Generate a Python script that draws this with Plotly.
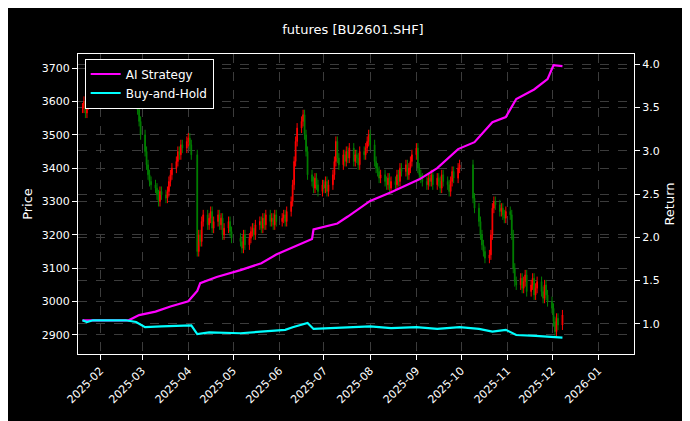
import pandas as pd
import plotly.graph_objects as go

# closes per month (trading days)
close_jan = [3580, 3600, 3565, 3590, 3610, 3595]
close_feb = [3620, 3640, 3660, 3650, 3670, 3690, 3680, 3660, 3700, 3680, 3660, 3670,
             3640, 3620, 3600, 3575, 3540, 3500]
close_mar = [3450, 3410, 3380, 3360, 3350, 3340, 3320, 3300, 3330, 3320, 3310, 3330,
             3360, 3380, 3400, 3420, 3450, 3440, 3470, 3460, 3480]
close_apr = [3490, 3470, 3440, 3150, 3200, 3180, 3240, 3260, 3230, 3250, 3270, 3220,
             3240, 3260, 3230, 3250, 3200, 3220, 3240, 3210, 3190]
close_may = [3180, 3160, 3200, 3170, 3190, 3210, 3220, 3200, 3230, 3240, 3220, 3250,
             3230, 3260, 3240, 3250, 3230, 3260, 3240]
close_jun = [3250, 3260, 3240, 3270, 3300, 3350, 3420, 3480, 3520, 3540, 3560, 3500,
             3450, 3380, 3360, 3340, 3370, 3350, 3330, 3350]
close_jul = [3340, 3360, 3330, 3350, 3380, 3420, 3480, 3430, 3410, 3440, 3420, 3450,
             3430, 3460, 3420, 3440, 3430, 3410, 3450, 3440, 3460, 3480, 3500]
close_aug = [3470, 3420, 3400, 3390, 3370, 3380, 3360, 3350, 3370, 3340, 3360, 3350,
             3380, 3360, 3400, 3390, 3410, 3380, 3400, 3420, 3440]
close_sep = [3460, 3400, 3380, 3370, 3360, 3350, 3370, 3360, 3380, 3350, 3370, 3360,
             3340, 3380, 3360, 3350, 3330, 3360, 3390, 3370, 3400, 3410]
close_oct = [3310, 3280, 3240, 3200, 3170, 3150, 3130, 3140, 3200, 3280, 3300, 3290,
             3270, 3280, 3260, 3250, 3270]
close_nov = [3260, 3200, 3100, 3060, 3050, 3070, 3040, 3060, 3080, 3030, 3050, 3070,
             3020, 3040, 3060, 3030, 3010, 3050, 3020, 3000]
close_dec = [2980, 2940, 2910, 2950, 2930, 2960]

months = [("2025-01-20", "2025-01-27", close_jan), ("2025-02-05", "2025-02-28", close_feb),
          ("2025-03-01", "2025-03-31", close_mar), ("2025-04-01", "2025-04-30", close_apr),
          ("2025-05-06", "2025-05-31", close_may), ("2025-06-03", "2025-06-30", close_jun),
          ("2025-07-01", "2025-07-31", close_jul), ("2025-08-01", "2025-08-31", close_aug),
          ("2025-09-01", "2025-09-30", close_sep), ("2025-10-09", "2025-10-31", close_oct),
          ("2025-11-01", "2025-11-30", close_nov), ("2025-12-01", "2025-12-08", close_dec)]
holidays = pd.to_datetime(["2025-04-04"])

dates, closes = [], []
for start, end, vals in months:
    d = pd.bdate_range(start, end)
    d = d[~d.isin(holidays)]
    for day, v in zip(d, vals):
        dates.append(day)
        closes.append(v)

opens = [closes[0]] + closes[:-1]
wick = 15
highs = [max(o, c) + wick for o, c in zip(opens, closes)]
lows = [min(o, c) - wick for o, c in zip(opens, closes)]

ai_dates = ["2025-01-20", "2025-02-20", "2025-02-27", "2025-03-10", "2025-03-20", "2025-04-01",
            "2025-04-03", "2025-04-07", "2025-04-09", "2025-04-20", "2025-05-06", "2025-05-20",
            "2025-05-30", "2025-06-10", "2025-06-23", "2025-06-24", "2025-07-10", "2025-07-17",
            "2025-08-01", "2025-08-15", "2025-09-03", "2025-09-15", "2025-09-29", "2025-10-10",
            "2025-10-22", "2025-10-31", "2025-11-07", "2025-11-19", "2025-11-28", "2025-12-02",
            "2025-12-08"]
ai_vals = [1.04, 1.04, 1.10, 1.14, 1.20, 1.26, 1.30, 1.38, 1.47, 1.54, 1.62, 1.70, 1.80, 1.88,
           1.98, 2.09, 2.16, 2.24, 2.42, 2.52, 2.67, 2.80, 3.02, 3.10, 3.33, 3.39, 3.60, 3.71,
           3.83, 3.99, 3.98]
bh_dates = ["2025-01-20", "2025-01-23", "2025-01-27", "2025-02-18", "2025-02-25", "2025-03-03",
            "2025-03-14", "2025-03-25", "2025-04-03", "2025-04-07", "2025-04-15", "2025-05-06",
            "2025-05-20", "2025-06-05", "2025-06-10", "2025-06-20", "2025-06-24", "2025-07-15",
            "2025-08-01", "2025-08-15", "2025-09-01", "2025-09-15", "2025-09-30", "2025-10-13",
            "2025-10-22", "2025-10-31", "2025-11-07", "2025-11-20", "2025-12-08"]
bh_vals = [1.04, 1.02, 1.04, 1.04, 1.02, 0.96, 0.97, 0.98, 0.98, 0.88, 0.90, 0.89, 0.91, 0.93,
           0.96, 1.01, 0.94, 0.96, 0.97, 0.95, 0.96, 0.94, 0.96, 0.94, 0.91, 0.93, 0.87, 0.86,
           0.84]

fig = go.Figure()
fig.add_trace(go.Candlestick(
    x=dates, open=opens, high=highs, low=lows, close=closes, showlegend=False,
    increasing=dict(line=dict(color="#ff0000", width=1), fillcolor="#ff0000"),
    decreasing=dict(line=dict(color="#008000", width=1), fillcolor="#008000"),
    whiskerwidth=0,
))
fig.add_trace(go.Scatter(x=ai_dates, y=ai_vals, name="AI Strategy", yaxis="y2",
                         mode="lines", line=dict(color="#ff00ff", width=2.2)))
fig.add_trace(go.Scatter(x=bh_dates, y=bh_vals, name="Buy-and-Hold", yaxis="y2",
                         mode="lines", line=dict(color="#00ffff", width=2.2)))

grid = dict(showgrid=True, gridcolor="#3c3c3c", griddash="dash", gridwidth=0.5,
            showline=True, linecolor="white", linewidth=1, ticks="outside",
            tickcolor="white", color="white", zeroline=False, tickfont=dict(size=11))
fig.update_layout(
    width=690, height=421, paper_bgcolor="black", plot_bgcolor="black",
    font=dict(family="DejaVu Sans", size=11, color="white"),
    margin=dict(l=70, r=64, t=46, b=75),
    title=dict(text="futures [BU2601.SHF]", x=0.5, y=0.96, xanchor="center",
               font=dict(size=13, color="white")),
    xaxis=dict(**grid, type="date", range=["2025-01-17", "2026-01-25"], dtick="M1",
               tickformat="%Y-%m", tickangle=-45, rangeslider=dict(visible=False),
               mirror=True),
    yaxis=dict(**grid, title=dict(text="Price", standoff=6), range=[2843, 3742],
               dtick=100, mirror=True),
    yaxis2=dict(**grid, title=dict(text="Return", standoff=6), overlaying="y",
                side="right", range=[0.65, 4.12], dtick=0.5, tickformat=".1f"),
    legend=dict(x=0.012, y=0.985, xanchor="left", yanchor="top", bgcolor="black",
                bordercolor="white", borderwidth=1, font=dict(size=12)),
)
fig.write_html("out.html")
